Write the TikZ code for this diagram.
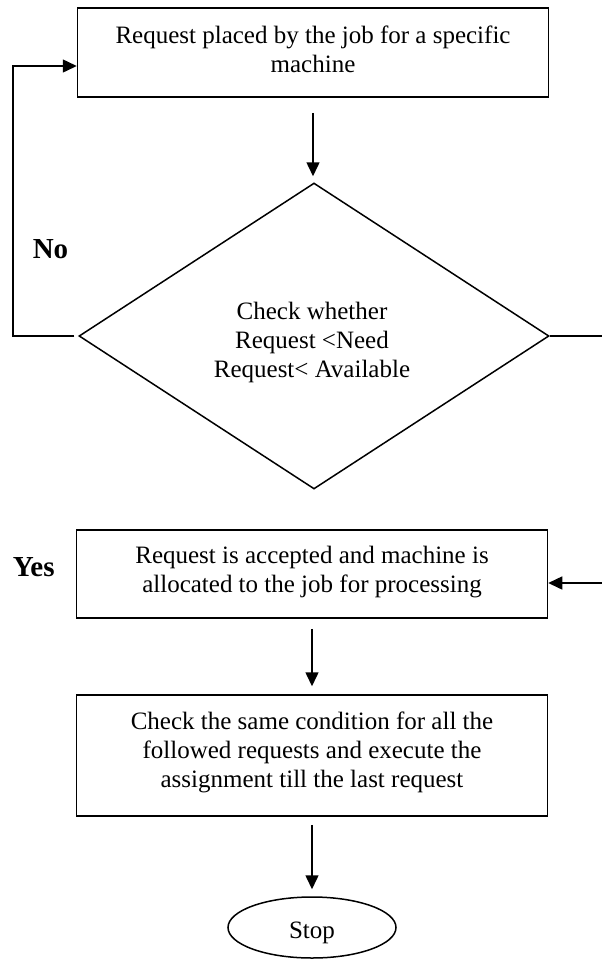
\documentclass[tikz,border=0pt]{standalone}
\usepackage{fontspec}
\setmainfont{Liberation Serif}
\usetikzlibrary{shapes.geometric,arrows.meta}
\begin{document}
\begin{tikzpicture}[x=1pt,y=-1pt,
  every path/.style={line width=1.5pt},
  txt/.style={font=\fontsize{25}{29}\selectfont, align=center, inner sep=0pt},
  box/.style={draw, minimum width=471pt, inner sep=0pt},
  dec/.style={draw, diamond, minimum width=470pt, minimum height=306pt, inner sep=0pt},
  term/.style={txt, draw, ellipse, minimum width=168pt, minimum height=61pt, text height=21pt, text depth=0pt},
  lbl/.style={font=\fontsize{29}{32}\selectfont\bfseries, inner sep=0pt},
  arr/.style={-{Triangle[length=14pt,width=13pt]}}
]
\useasboundingbox (0,0) rectangle (602,959);

% shapes
\node[box, minimum height=89pt] (req) at (313,52.5) {};
\node[dec] (chk) at (314,336) {};
\node[box, minimum height=88pt] (acc) at (312,574) {};
\node[box, minimum height=121pt] (all) at (312,755.5) {};
\node[term] (stop) at (312,927.5) {Stop};

% texts
\node[txt] (reqt) at (313,49) {Request placed by the job for a specific\\machine};
\node[txt] (chkt) at (312,342.2) {Check whether\\Request <Need\\Request< Available};
\node[txt] (acct) at (312,571.8) {Request is accepted and machine is\\allocated to the job for processing};
\node[txt] (allt) at (312,752.2) {Check the same condition for all the\\followed requests and execute the\\assignment till the last request};

\node[lbl, anchor=base west] (no) at (32,258) {No};
\node[lbl, anchor=base west] (yes) at (12,576) {Yes};

\coordinate (tl) at (13,66);
\coordinate (rr) at (602,339);
\coordinate (ry) at (602,583);

\draw[arr] ([yshift=-15pt]req.south) -- ([yshift=6pt]req.south |- chk.north);
\draw[arr] ([xshift=-4pt]chk.west) -| (tl) -- (req.west |- tl);
\draw (chk.east) -- (chk.east -| rr);
\draw[arr] (ry) -- (acc.east |- ry);
\draw[arr] ([yshift=-10pt]acc.south) -- ([yshift=8pt]all.north);
\draw[arr] ([yshift=-8pt]all.south) -- ([yshift=7pt]stop.north);
\end{tikzpicture}
\end{document}
